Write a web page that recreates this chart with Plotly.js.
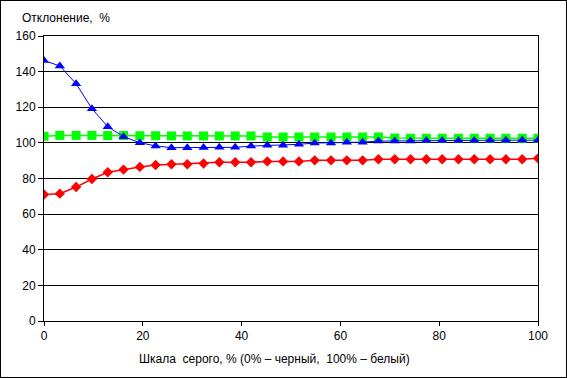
<!DOCTYPE html>
<html><head><meta charset="utf-8">
<script src="https://cdn.plot.ly/plotly-3.0.1.min.js"></script>
<style>body{margin:0;background:#fff}#c{width:565px;height:376px;border:1px solid #000}</style>
</head><body><div id="c"></div>
<script>
const xGray = [0, 3.2, 6.5, 9.7, 12.9, 16.1, 19.4, 22.6, 25.8, 29.0, 32.3, 35.5, 38.7, 41.9, 45.2, 48.4,
  51.6, 54.8, 58.1, 61.3, 64.5, 67.7, 71.0, 74.2, 77.4, 80.6, 83.9, 87.1, 90.3, 93.5, 96.8, 100];
const blueVals = [146.2, 143.2, 133.2, 119.2, 109.1, 103.5, 100.1, 98.3, 97.3, 97.3, 97.4, 97.5, 97.5, 98.2, 98.6, 98.7,
  99.2, 99.9, 100.0, 100.3, 100.4, 101.0, 101.0, 101.0, 101.4, 101.4, 101.4, 101.4, 101.5, 101.5, 101.6, 101.5];
const greenVals = [103.7, 104.2, 104.2, 104.2, 104.1, 104.1, 104.0, 104.0, 103.9, 103.9, 103.9, 103.9, 103.9, 103.9, 103.3, 103.3,
  103.3, 103.3, 103.3, 103.3, 103.3, 103.3, 102.7, 102.6, 102.6, 102.6, 102.6, 102.6, 102.6, 102.6, 102.6, 102.6];
const redVals = [71.0, 71.5, 75.2, 79.7, 83.5, 85.0, 86.5, 87.6, 88.0, 88.0, 88.4, 89.1, 89.1, 89.1, 89.6, 89.6,
  89.6, 90.2, 90.2, 90.2, 90.2, 90.8, 90.8, 90.8, 90.8, 90.8, 90.8, 90.8, 90.8, 90.8, 90.8, 91.3];
const yTicks = [0, 20, 40, 60, 80, 100, 120, 140, 160];
const xTicks = [0, 20, 40, 60, 80, 100];

const font = {family: 'Liberation Sans, Arial, sans-serif', size: 12, color: '#000'};
const traces = [
  {x: xGray, y: greenVals, mode: 'lines+markers', line: {color: '#00FF00', width: 1.5},
   marker: {symbol: 'square', size: 9, color: '#00FF00'}},
  {x: xGray, y: blueVals, mode: 'lines+markers', line: {color: '#0000FF', width: 1},
   marker: {symbol: 'triangle-up', size: 9, color: '#0000FF'}},
  {x: xGray, y: redVals, mode: 'lines+markers', line: {color: '#FF0000', width: 1.5},
   marker: {symbol: 'diamond', size: 8, color: '#FF0000'}}
];
const layout = {
  width: 565, height: 376, showlegend: false,
  margin: {l: 43, r: 28, t: 35, b: 56},
  paper_bgcolor: '#fff', plot_bgcolor: '#fff', font: font,
  xaxis: {range: [0, 100], tickvals: xTicks, ticktext: xTicks.map(String), showgrid: false, zeroline: false,
    showline: true, linecolor: '#000', linewidth: 1, mirror: true, ticks: 'outside', ticklen: 4, tickcolor: '#000'},
  yaxis: {range: [0, 160], tickvals: yTicks, ticktext: yTicks.map(String), showgrid: true, gridcolor: '#000', gridwidth: 1,
    zeroline: false, showline: true, linecolor: '#000', linewidth: 1, mirror: true, ticks: 'outside', ticklen: 5, tickcolor: '#000'},
  annotations: [
    {text: 'Отклонение,  %', xref: 'paper', yref: 'paper', x: -0.049, y: 1.063, xanchor: 'left', yanchor: 'middle',
     showarrow: false, font: font},
    {text: 'Шкала  серого, % (0% – черный,  100% – белый)', xref: 'paper', yref: 'paper', x: 0.466, y: -0.133,
     xanchor: 'center', yanchor: 'middle', showarrow: false, font: font}
  ]
};
Plotly.newPlot('c', traces, layout, {displayModeBar: false, staticPlot: true});
</script></body></html>
